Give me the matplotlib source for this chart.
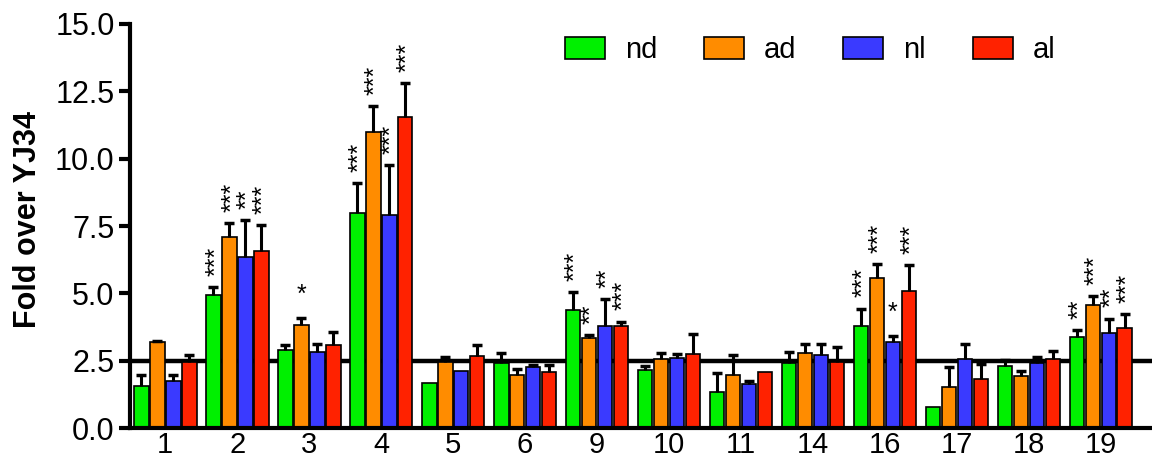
import numpy as np
import matplotlib
matplotlib.use("Agg")
import matplotlib.pyplot as plt

plt.rcParams['font.family'] = ['Liberation Sans', 'DejaVu Sans']

# --- datos ---
groups = ['1', '2', '3', '4', '5', '6', '9', '10', '11', '14', '16', '17', '18', '19']
series = ['nd', 'ad', 'nl', 'al']

nd = [1.56, 4.95, 2.91, 7.99, 1.69, 2.41, 4.37, 2.17, 1.34, 2.41, 3.78, 0.79, 2.31, 3.38]
nd_err = [0.41, 0.29, 0.18, 1.11, 0.0, 0.39, 0.68, 0.14, 0.70, 0.41, 0.66, 0.0, 0.22, 0.26]
ad = [3.19, 7.10, 3.85, 11.00, 2.45, 1.98, 3.34, 2.58, 1.96, 2.79, 5.58, 1.54, 1.94, 4.58]
ad_err = [0.06, 0.52, 0.25, 0.94, 0.19, 0.22, 0.11, 0.20, 0.76, 0.35, 0.52, 0.72, 0.19, 0.33]
nl = [1.74, 6.34, 2.82, 7.93, 2.13, 2.26, 3.80, 2.62, 1.66, 2.73, 3.20, 2.56, 2.43, 3.55]
nl_err = [0.22, 1.40, 0.29, 1.83, 0.0, 0.07, 1.01, 0.15, 0.08, 0.38, 0.24, 0.57, 0.21, 0.52]
al = [2.47, 6.56, 3.08, 11.56, 2.69, 2.08, 3.78, 2.75, 2.08, 2.45, 5.10, 1.81, 2.57, 3.71]
al_err = [0.26, 0.99, 0.49, 1.24, 0.39, 0.25, 0.18, 0.75, 0.0, 0.56, 0.94, 0.56, 0.28, 0.52]

# significancia (vacío = sin marca)
nd_sig = ['', '***', '', '***', '', '', '***', '', '', '', '***', '', '', '**']
ad_sig = ['', '***', '*', '***', '', '', '**', '', '', '', '***', '', '', '***']
nl_sig = ['', '**', '', '***', '', '', '**', '', '', '', '*', '', '', '**']
al_sig = ['', '***', '', '***', '', '', '***', '', '', '', '***', '', '', '***']

threshold = 2.5

colors = ['#00f000', '#ff8c00', '#3a3aff', '#ff2200']
values = [nd, ad, nl, al]
errors = [nd_err, ad_err, nl_err, al_err]
sigs = [nd_sig, ad_sig, nl_sig, al_sig]

# --- figura ---
fig = plt.figure(figsize=(11.52, 4.59), dpi=100)
ax = fig.add_axes([0.1128, 0.0669, 0.8872, 0.881])

x = np.arange(len(groups))
pitch = 0.222
width = 0.205

ax.axhline(threshold, color='black', lw=3.2, zorder=1)

for k, name in enumerate(series):
    pos = x + (k - 1.5) * pitch
    v = np.array(values[k])
    e = np.array(errors[k])
    ax.bar(pos, v, width=width, color=colors[k], edgecolor='black',
           linewidth=1.2, label=name, zorder=2)
    m = e > 0
    ax.vlines(pos[m], v[m], v[m] + e[m], color='black', lw=2.2, zorder=3)
    ax.plot(pos[m], v[m] + e[m], ls='none', marker='_', ms=7, mew=2.5,
            color='black', zorder=3)
    # asteriscos apilados en vertical encima de la barra de error
    for xi, yi, s in zip(pos, v + e, sigs[k]):
        if s:
            rot = 90 if len(s) > 1 else 0
            ax.annotate(s, (xi, yi), xytext=(2 if rot else 0, 8),
                        textcoords='offset points', rotation=rot,
                        ha='center', va='bottom', fontsize=18)

ax.set_xlim(-0.49, 13.71)
ax.set_ylim(0, 15)
ax.set_yticks([0, 2.5, 5, 7.5, 10, 12.5, 15])
ax.set_yticklabels(['0.0', '2.5', '5.0', '7.5', '10.0', '12.5', '15.0'], fontsize=22)
ax.set_xticks(x)
ax.set_xticklabels(groups, fontsize=21)
ax.tick_params(axis='y', length=8, width=3, pad=3)
ax.tick_params(axis='x', length=0, pad=2)

for side in ['top', 'right']:
    ax.spines[side].set_visible(False)
for side in ['left', 'bottom']:
    ax.spines[side].set_linewidth(3)

ax.set_ylabel('Fold over YJ34', fontsize=22, fontweight='bold')
ax.yaxis.set_label_coords(-0.085, 0.516)

ax.legend(loc='upper left', bbox_to_anchor=(565 / 1152, 1 - 36 / 459),
          bbox_transform=fig.transFigure, ncol=4, frameon=False, fontsize=21,
          handlelength=1.37, handleheight=0.79, handletextpad=0.69,
          columnspacing=1.6, borderpad=0, borderaxespad=0)

fig.savefig('out.png', dpi=100)
